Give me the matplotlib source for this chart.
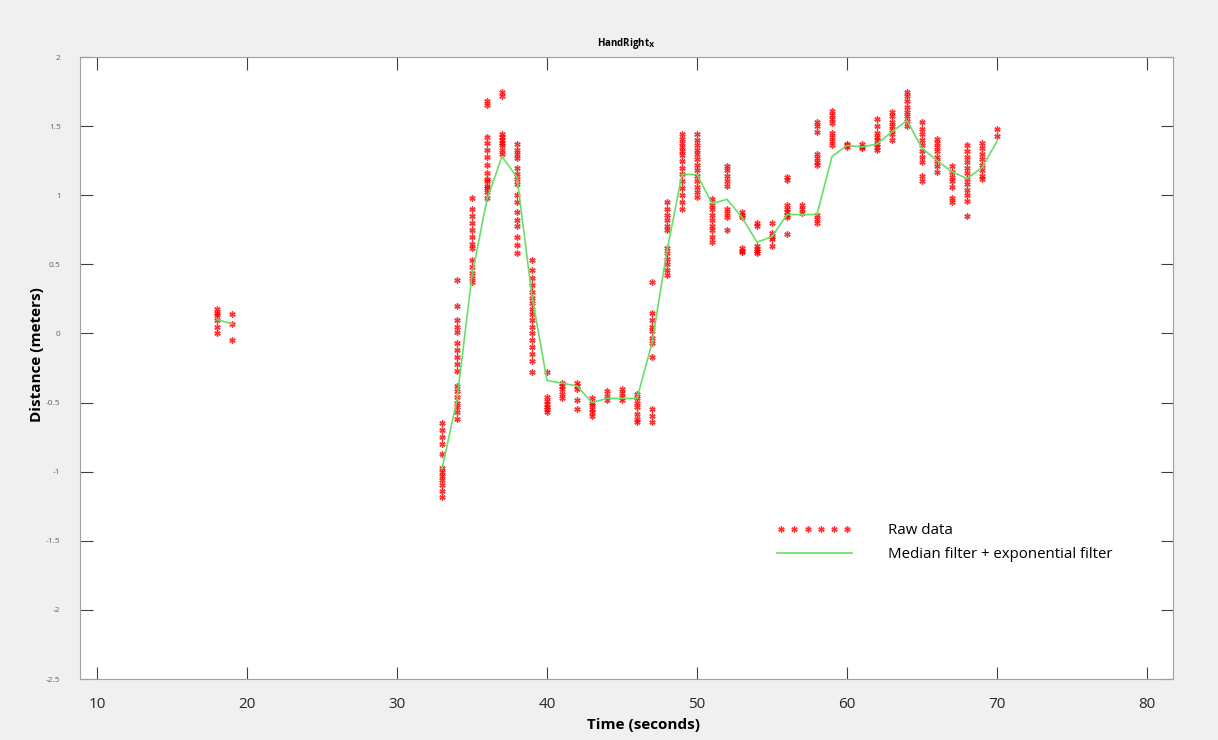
import matplotlib
matplotlib.use("Agg")
import matplotlib.pyplot as plt
from matplotlib.legend_handler import HandlerLine2D

# raw samples, grouped by the second they fall in
raw_times = [18, 19] + list(range(33, 71))
raw_values = [
    [0.18, 0.15, 0.13, 0.10, 0.05, 0.00],
    [0.14, 0.07, -0.05],
    [-0.65, -0.70, -0.75, -0.80, -0.87, -0.97, -1.00, -1.03, -1.06, -1.10, -1.14, -1.18],
    [0.39, 0.20, 0.10, 0.05, 0.01, -0.07, -0.12, -0.17, -0.22, -0.27, -0.38, -0.42, -0.46, -0.50, -0.53, -0.57, -0.62],
    [0.98, 0.90, 0.85, 0.80, 0.75, 0.70, 0.65, 0.62, 0.53, 0.48, 0.44, 0.40, 0.37],
    [1.68, 1.65, 1.42, 1.38, 1.33, 1.28, 1.22, 1.16, 1.12, 1.10, 1.07, 1.05, 1.02, 0.98],
    [1.75, 1.72, 1.44, 1.42, 1.40, 1.38, 1.36, 1.33, 1.30],
    [1.37, 1.33, 1.30, 1.27, 1.20, 1.15, 1.12, 1.08, 1.00, 0.95, 0.88, 0.82, 0.78, 0.70, 0.64, 0.58],
    [0.53, 0.46, 0.40, 0.35, 0.30, 0.26, 0.22, 0.18, 0.14, 0.10, 0.05, 0.00, -0.05, -0.10, -0.15, -0.20, -0.28],
    [-0.28, -0.46, -0.49, -0.51, -0.53, -0.55, -0.57],
    [-0.36, -0.38, -0.40, -0.44, -0.47],
    [-0.36, -0.38, -0.40, -0.48, -0.55],
    [-0.47, -0.50, -0.52, -0.55, -0.57, -0.60],
    [-0.42, -0.45, -0.48],
    [-0.40, -0.43, -0.46, -0.48],
    [-0.44, -0.47, -0.50, -0.53, -0.58, -0.62, -0.64],
    [0.37, 0.15, 0.10, 0.05, 0.02, -0.03, -0.07, -0.17, -0.55, -0.60, -0.64],
    [0.95, 0.90, 0.86, 0.82, 0.78, 0.75, 0.62, 0.58, 0.54, 0.50, 0.46, 0.42],
    [1.44, 1.41, 1.38, 1.35, 1.32, 1.29, 1.25, 1.20, 1.15, 1.10, 1.05, 1.00, 0.95, 0.90],
    [1.44, 1.40, 1.36, 1.33, 1.30, 1.26, 1.22, 1.18, 1.14, 1.10, 1.06, 1.02, 0.99],
    [0.97, 0.93, 0.90, 0.86, 0.82, 0.78, 0.75, 0.70, 0.66],
    [1.21, 1.18, 1.14, 1.10, 1.07, 0.90, 0.87, 0.84, 0.75],
    [0.88, 0.86, 0.84, 0.62, 0.60, 0.59],
    [0.80, 0.78, 0.63, 0.61, 0.60, 0.58],
    [0.80, 0.73, 0.70, 0.68, 0.63],
    [1.13, 1.11, 0.93, 0.90, 0.88, 0.86, 0.84, 0.72],
    [0.93, 0.90, 0.87],
    [1.53, 1.50, 1.46, 1.30, 1.27, 1.24, 1.22, 0.86, 0.83, 0.80],
    [1.61, 1.58, 1.55, 1.52, 1.45, 1.42, 1.39, 1.36],
    [1.37, 1.36, 1.35],
    [1.37, 1.35, 1.34],
    [1.55, 1.50, 1.45, 1.42, 1.40, 1.37, 1.35, 1.33],
    [1.60, 1.57, 1.53, 1.50, 1.47, 1.44, 1.40],
    [1.75, 1.72, 1.68, 1.64, 1.60, 1.57, 1.54, 1.50],
    [1.53, 1.48, 1.44, 1.40, 1.36, 1.32, 1.28, 1.24, 1.14, 1.10],
    [1.41, 1.38, 1.35, 1.32, 1.28, 1.25, 1.21, 1.17],
    [1.21, 1.17, 1.13, 1.10, 1.06, 0.98, 0.95],
    [1.36, 1.32, 1.28, 1.24, 1.20, 1.16, 1.12, 1.08, 1.04, 1.00, 0.96, 0.85],
    [1.38, 1.34, 1.30, 1.26, 1.22, 1.18, 1.14, 1.12],
    [1.48, 1.43],
]

# filtered signal (two separate stretches)
filt_times_a = [18, 19]
filt_values_a = [0.10, 0.07]
filt_times_b = list(range(33, 71))
filt_values_b = [-0.98, -0.48, 0.42, 0.97, 1.28, 1.13, 0.27, -0.34, -0.36, -0.38,
                 -0.50, -0.47, -0.47, -0.47, -0.07, 0.60, 1.15, 1.15, 0.94, 0.97,
                 0.84, 0.66, 0.70, 0.86, 0.86, 0.86, 1.28, 1.36, 1.35, 1.37,
                 1.46, 1.54, 1.34, 1.25, 1.17, 1.12, 1.20, 1.39]

xticks = [10, 20, 30, 40, 50, 60, 70, 80]
yticks = [-2.5, -2, -1.5, -1, -0.5, 0, 0.5, 1, 1.5, 2]
ytick_labels = ["-2.5", "-2", "-1.5", "-1", "-0.5", "0", "0.5", "1", "1.5", "2"]

plt.rcParams['font.family'] = ['Open Sans', 'DejaVu Sans']

xs = [t for t, vals in zip(raw_times, raw_values) for _ in vals]
ys = [v for vals in raw_values for v in vals]

fig = plt.figure(figsize=(12.18, 7.40), dpi=100, facecolor='#f0f0f0')
ax = fig.add_axes([80 / 1218, 1 - 679 / 740, 1093 / 1218, 622 / 740])

raw, = ax.plot(xs, ys, linestyle='none', marker=(6, 2, 0), color='#ff0000',
               markersize=4.5, markeredgewidth=1.0, alpha=0.8, label='Raw data')
ax.plot(filt_times_a, filt_values_a, color='#66e066', linewidth=1.2)
filt, = ax.plot(filt_times_b, filt_values_b, color='#66e066', linewidth=1.2,
                label='Median filter + exponential filter')

ax.set_xlim(8.87, 81.73)
ax.set_ylim(-2.5, 2)
ax.set_xticks(xticks)
ax.set_yticks(yticks)
ax.set_yticklabels(ytick_labels)
ax.tick_params(direction='in', length=9, width=0.8, color='#404040',
               top=True, right=True)
ax.tick_params(axis='x', labelsize=11, labelcolor='#262626', pad=13)
ax.tick_params(axis='y', labelsize=6, labelcolor='#606060', pad=14)
for s in ax.spines.values():
    s.set_color('#a0a0a0')
    s.set_linewidth(0.8)

ax.set_title(r'HandRight$_{\mathbf{X}}$', fontsize=7, fontweight='bold', pad=8)
ax.set_xlabel('Time (seconds)', fontsize=11, fontweight='bold')
ax.set_ylabel('Distance (meters)', fontsize=11, fontweight='bold')
ax.xaxis.set_label_coords(0.516, -0.062)
ax.yaxis.set_label_coords(-0.033, 0.522)

ax.legend(handles=[raw, filt], loc='upper left', bbox_to_anchor=(0.625, 0.272),
          frameon=False, fontsize=10.8, handlelength=5.0, handletextpad=2.4,
          labelspacing=0.6,
          handler_map={raw: HandlerLine2D(numpoints=6)})

fig.savefig('out.png', dpi=100, facecolor=fig.get_facecolor())
